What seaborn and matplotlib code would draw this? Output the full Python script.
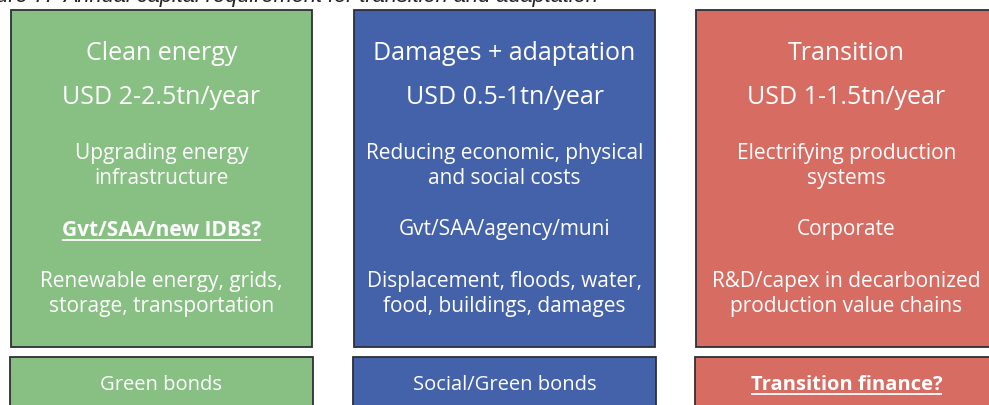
import matplotlib
matplotlib.use("Agg")
import matplotlib.pyplot as plt
import seaborn as sns
from matplotlib.patches import Rectangle

sns.set_theme(style="white")
plt.rcParams['font.family'] = ['Open Sans', 'DejaVu Sans']

# ---- data ----
categories = ["Clean energy", "Damages + adaptation", "Transition"]
requirements = ["USD 2-2.5tn/year", "USD 0.5-1tn/year", "USD 1-1.5tn/year"]
purposes = ["Upgrading energy\ninfrastructure",
            "Reducing economic, physical\nand social costs",
            "Electrifying production\nsystems"]
funders = ["Gvt/SAA/new IDBs?", "Gvt/SAA/agency/muni", "Corporate"]
funder_emphasis = [True, False, False]
uses = ["Renewable energy, grids,\nstorage, transportation",
        "Displacement, floods, water,\nfood, buildings, damages",
        "R&D/capex in decarbonized\nproduction value chains"]
instruments = ["Green bonds", "Social/Green bonds", "Transition finance?"]
instrument_emphasis = [False, False, True]
colors = ["#88C084", "#4462AA", "#D76C63"]
title_prefix = "Figure 7: "
title = "Annual capital requirement for transition and adaptation"

W, H = 989, 405
fig = plt.figure(figsize=(W / 100, H / 100), dpi=100)
ax = fig.add_axes([0, 0, 1, 1])
ax.set_xlim(0, W)
ax.set_ylim(H, 0)
ax.axis("off")

lefts = [11, 354, 696]
box_w = 301
edge = "#2E2E38"

underlines = []

def put(x, y, s, size, bold=False, underline=False):
    t = ax.text(x, y, s, ha="center", va="center", color="white",
                fontsize=size, fontweight="bold" if bold else "normal",
                linespacing=1.3)
    if underline:
        underlines.append(t)
    return t

for i, cat in enumerate(categories):
    x0 = lefts[i]
    ax.add_patch(Rectangle((x0, 10), box_w, 337, facecolor=colors[i],
                           edgecolor=edge, lw=1.3))
    ax.add_patch(Rectangle((x0 - 1, 357), box_w + 2, 60, facecolor=colors[i],
                           edgecolor=edge, lw=1.3))
    cx = x0 + box_w / 2
    put(cx, 54, cat, 18)
    put(cx, 98, requirements[i], 18)
    put(cx, 166, purposes[i], 15)
    put(cx, 230, funders[i], 15, bold=funder_emphasis[i], underline=funder_emphasis[i])
    put(cx, 294, uses[i], 15)
    put(cx, 385, instruments[i], 14.5, bold=instrument_emphasis[i],
        underline=instrument_emphasis[i])

tfam = ["Liberation Sans", "DejaVu Sans"]
ax.text(63, 2, title, ha="left", va="baseline", style="italic",
        fontsize=15.7, color="#222222", family=tfam)
ax.text(58, 2, title_prefix, ha="right", va="baseline", style="italic",
        fontsize=15.7, color="#222222", family=tfam)

fig.canvas.draw()
r = fig.canvas.get_renderer()
inv = ax.transData.inverted()
for t in underlines:
    bb = t.get_window_extent(renderer=r)
    (xa, ya), (xb, yb) = inv.transform([(bb.x0, bb.y0), (bb.x1, bb.y1)])
    ax.plot([xa, xb], [ya - 1, ya - 1], color="white", lw=1.3,
            solid_capstyle="butt")

fig.savefig("out.png", dpi=100)
